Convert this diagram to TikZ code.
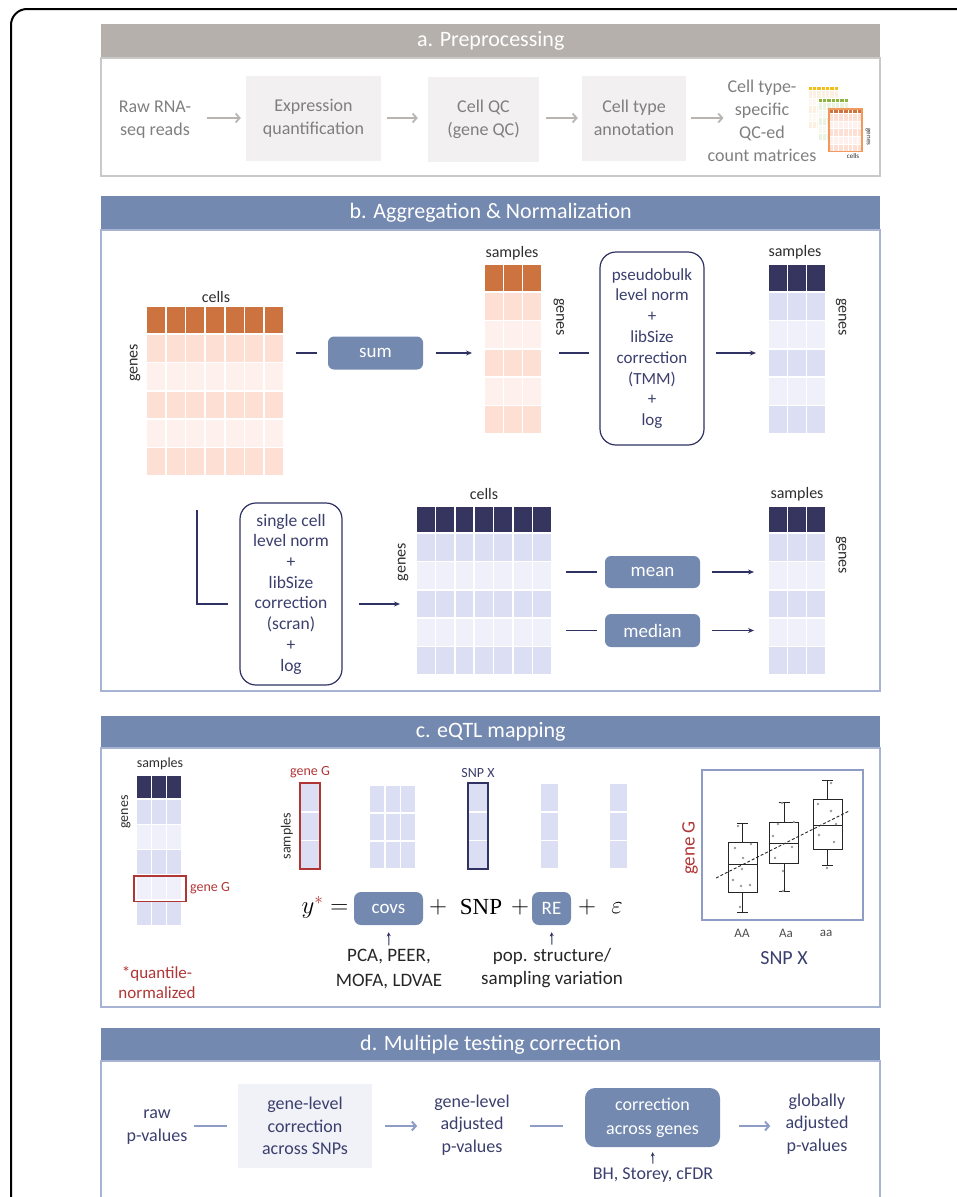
\documentclass[tikz,border=0pt]{standalone}
\usepackage{fontspec}
\setmainfont{Carlito}
\newfontfamily\eqfont{Liberation Serif}
\usetikzlibrary{positioning, arrows.meta, calc}

\definecolor{hdrGray}{HTML}{B5B0AC}
\definecolor{hdrBlue}{HTML}{7489B0}
\definecolor{frameGray}{HTML}{C9C9C9}
\definecolor{frameBlue}{HTML}{A6B3D2}
\definecolor{boxGray}{HTML}{F2F0F0}
\definecolor{boxLav}{HTML}{F1F1F8}
\definecolor{txtGray}{HTML}{7F7F7F}
\definecolor{arrGray}{HTML}{B8B4B0}
\definecolor{lblTxt}{HTML}{2E2E2E}
\definecolor{navy}{HTML}{2F3263}
\definecolor{navyHead}{HTML}{36355F}
\definecolor{navyTxt}{HTML}{3B3F6E}
\definecolor{rust}{HTML}{CC7340}
\definecolor{peachA}{HTML}{FDDFD4}
\definecolor{peachB}{HTML}{FEF1ED}
\definecolor{lavA}{HTML}{DCDFF4}
\definecolor{lavB}{HTML}{EFF0FA}
\definecolor{flatA}{HTML}{DCDFF4}
\definecolor{flatB}{HTML}{DCDFF4}
\definecolor{geneRed}{HTML}{B03636}
\definecolor{slate}{HTML}{8F9DC6}
\definecolor{gold}{HTML}{F2BE1A}
\definecolor{goldA}{HTML}{FCF0E2}
\definecolor{goldB}{HTML}{FEF8F2}
\definecolor{leaf}{HTML}{8DB43E}
\definecolor{leafA}{HTML}{EAF2E0}
\definecolor{leafB}{HTML}{F5F9F0}
\definecolor{iconOrange}{HTML}{F09A5E}
\definecolor{dotGray}{HTML}{9A9A9A}

\tikzset{
  hdr/.style={fill=hdrBlue, text=white, font=\fontsize{22}{26}\selectfont, minimum width=779pt, anchor=north west, inner sep=0pt},
  procbox/.style={fill=boxGray, text=txtGray, align=center, inner sep=0pt, font=\fontsize{18}{23}\selectfont},
  graytxt/.style={text=txtGray, align=center, inner sep=0pt, font=\fontsize{18}{23}\selectfont},
  arrA/.style={draw=arrGray, line width=1.8pt, -{Straight Barb[length=4pt,width=9pt]}},
  lbl/.style={text=lblTxt, inner sep=0pt, font=\fontsize{16}{18}\selectfont},
  smlbl/.style={lbl, font=\fontsize{14}{16}\selectfont},
  opbox/.style={fill=hdrBlue, text=white, rounded corners=6pt, inner sep=0pt, font=\fontsize{19}{22}\selectfont},
  normbox/.style={draw=navy, line width=1.2pt, rounded corners=16pt, fill=white, text=navyTxt, align=center, inner sep=0pt, font=\fontsize{17}{20.8}\selectfont},
  link/.style={draw=navy, line width=1.3pt},
  arrN/.style={link, -{Stealth[length=6pt,width=5pt]}},
  arrS/.style={link, line width=1pt, -{Stealth[length=4pt,width=4pt]}},
  eqtxt/.style={text=black!85, inner sep=0pt, font=\fontsize{19}{22}\selectfont},
  eqsym/.style={text=black, inner sep=0pt, font=\fontsize{23}{26}\selectfont},
  redtxt/.style={text=geneRed, inner sep=0pt, align=center},
  dtxt/.style={text=navyTxt, align=center, inner sep=0pt, font=\fontsize{18}{22.5}\selectfont},
  lavbox/.style={dtxt, fill=boxLav},
  lineD/.style={draw=slate, line width=1.6pt},
  arrD/.style={lineD, line width=2pt, -{Straight Barb[length=4pt,width=9pt]}},
  cellgap/.style={draw=white, line width=1.6pt}
}

% name, top left, cols, rows, cell width, row height, header height, header colour, row colours
\newcommand{\heatmat}[9]{%
  \begin{scope}[shift={#2}]
    \foreach \cc in {1,...,#3}{
      \filldraw[cellgap, fill=#8] ({(\cc-1)*#5},0) rectangle ++(#5,#7);
      \foreach \rr in {1,...,#4}{
        \ifodd\rr\relax \def\rowcol{#9A}\else \def\rowcol{#9B}\fi
        \filldraw[cellgap, fill=\rowcol] ({(\cc-1)*#5},{#7+(\rr-1)*#6}) rectangle ++(#5,#6);
      }
    }
    \node[inner sep=0pt, outer sep=0pt, minimum width={#3*#5}, minimum height={#7+#4*#6}, anchor=north west] (#1) at (0,0) {};
  \end{scope}
}

\begin{document}
\begin{tikzpicture}[x=1pt, y=-1pt]
    \useasboundingbox (0,0) rectangle (957,1197);
    \clip (0,0) rectangle (957,1197);

    % Outer frame
    \draw[line width=2pt, rounded corners=16pt] (11,1240) -- (11,9) -- (990,9);

    % a. Preprocessing
    \node[hdr, fill=hdrGray, minimum height=34pt] (hdrA) at (101,24) {a. Preprocessing};
    \draw[frameGray, line width=1.2pt] (101,58) rectangle (880,176);

    \node[graytxt] (raw) at (155,120) {Raw RNA-\\seq reads};
    \node[procbox, minimum width=135pt, minimum height=85pt] (expr) at (313.5,118) {Expression\\quantification};
    \node[procbox, minimum width=111pt, minimum height=85pt] (cellqc) at (483.5,119) {Cell QC\\(gene QC)};
    \node[procbox, minimum width=104pt, minimum height=85pt] (ctype) at (634,118) {Cell type\\annotation};
    \node[graytxt] (qcmat) at (762,121) {Cell type-\\specific\\QC-ed\\count matrices};

    \draw[arrA, shorten <=16pt, shorten >=5pt] (raw.east |- expr.west) -- (expr.west);
    \draw[arrA, shorten <=6pt, shorten >=10pt] (expr.east) -- (cellqc.west |- expr.east);
    \draw[arrA, shorten <=7pt, shorten >=4pt] (cellqc.east |- ctype.west) -- (ctype.west);
    \draw[arrA, shorten <=5pt, shorten >=-16pt] (ctype.east) -- (qcmat.west |- ctype.east);

    % count matrix icon
    \begin{scope}[cellgap/.style={draw=white, line width=0.6pt}]
        \heatmat{iconY}{(808,86)}{7}{5}{4.3}{7.6}{4.5}{gold}{gold}
        \heatmat{iconG}{(818,98)}{7}{5}{4.3}{7.6}{4.5}{leaf}{leaf}
        \heatmat{iconO}{(829,109)}{7}{5}{4.7}{7.6}{4.5}{rust}{peach}
    \end{scope}
    \draw[iconOrange, line width=1.2pt] (iconO.north west) rectangle (iconO.south east);
    \node[lbl, rotate=-90, font=\fontsize{7}{8}\selectfont] (iconGenes) at (868,137) {genes};
    \node[lbl, font=\fontsize{7}{8}\selectfont] (iconCells) at (853,156) {cells};

    % b. Aggregation & Normalization
    \node[hdr, minimum height=34pt] (hdrB) at (101,196) {b. Aggregation \& Normalization};
    \draw[frameBlue, line width=1.2pt] (101,230) rectangle (880,691);

    \heatmat{cellsA}{(146,306)}{7}{5}{19.7}{28.4}{28}{rust}{peach}
    \node[lbl] (cellsAc) at (216,297) {cells};
    \node[lbl, rotate=90] (cellsAg) at (135,363) {genes};

    \node[opbox, minimum width=95pt, minimum height=33pt] (sum) at (375.5,353) {sum};

    \heatmat{sumA}{(484,264)}{3}{5}{19.3}{28.4}{28}{rust}{peach}
    \node[lbl] (sumAs) at (512,253) {samples};
    \node[lbl, rotate=-90] (sumAg) at (559,317) {genes};

    \node[normbox, minimum width=104pt, minimum height=193pt] (pseudo) at (652,348.5) {pseudobulk\\level norm\\+\\libSize\\correction\\(TMM)\\+\\log};

    \heatmat{normA}{(768,264)}{3}{5}{19.3}{28.4}{28}{navyHead}{lav}
    \node[lbl] (normAs) at (795,252) {samples};
    \node[lbl, rotate=-90] (normAg) at (841,317) {genes};

    \draw[link, shorten <=12pt, shorten >=11pt] (cellsA.east |- sum.west) -- (sum.west);
    \draw[arrN, shorten <=13pt, shorten >=12pt] (sum.east) -- (sumA.west |- sum.east);
    \draw[link, shorten <=17pt, shorten >=10pt] (sumA.east |- sum.east) -- (pseudo.west |- sum.east);
    \draw[arrN, shorten <=11pt, shorten >=12pt] (pseudo.east |- sum.east) -- (normA.west |- sum.east);

    \node[normbox, font=\fontsize{17.5}{20.7}\selectfont, minimum width=102pt, minimum height=182pt] (scbox) at (291,594) {single cell\\level norm\\+\\libSize\\correction\\(scran)\\+\\log};

    \heatmat{cellsB}{(416,506)}{7}{5}{19.4}{28.4}{27}{navyHead}{lav}
    \node[lbl] (cellsBc) at (484,494) {cells};
    \node[lbl, rotate=90] (cellsBg) at (403,562) {genes};

    \node[opbox, minimum width=95pt, minimum height=32pt] (mean) at (652.5,572) {mean};
    \node[opbox, minimum width=95pt, minimum height=33pt] (median) at (652.5,630.5) {median};

    \heatmat{meanB}{(768,506)}{3}{5}{19.3}{28.4}{27}{navyHead}{lav}
    \node[lbl] (meanBs) at (797,494) {samples};
    \node[lbl, rotate=-90] (meanBg) at (841,555) {genes};

    \draw[link, shorten >=11pt] ([xshift=-18pt, yshift=-34pt]cellsA.south) |- ([yshift=-10pt]scbox.west);
    \draw[arrN, shorten <=16pt, shorten >=16pt] ([yshift=-10pt]scbox.east) -- ([yshift=-10pt]scbox.east -| cellsB.west);
    \draw[link, shorten <=14pt, shorten >=8pt] (cellsB.east |- mean.west) -- (mean.west);
    \draw[arrN, shorten <=12pt, shorten >=14pt] (mean.east) -- (meanB.west |- mean.east);
    \draw[link, shorten <=14pt, shorten >=8pt] (cellsB.east |- median.west) -- (median.west);
    \draw[arrN, shorten <=12pt, shorten >=14pt] (median.east) -- (meanB.west |- median.east);

    % c. eQTL mapping
    \node[hdr, minimum height=32pt] (hdrC) at (101,716) {c. eQTL mapping};
    \draw[frameBlue, line width=1.2pt] (101,748) rectangle (880,1007);

    \heatmat{qnorm}{(136,775)}{3}{5}{15.33}{25.3}{24}{navyHead}{lav}
    \node[smlbl] (qnorms) at (160,764) {samples};
    \node[smlbl, rotate=90] (qnormg) at (126,812) {genes};
    \draw[geneRed, line width=1.3pt] (134,876) rectangle (186,901.5);
    \node[redtxt, font=\fontsize{14}{16}\selectfont] (qgene) at (210,888) {gene G};
    \node[redtxt, font=\fontsize{17}{20}\selectfont] (qnote) at (157,983) {*quantile-\\normalized};

    \heatmat{geneCol}{(300,783)}{1}{3}{20}{28.7}{0}{white}{flat}
    \draw[geneRed, line width=1.5pt] (geneCol.north west) rectangle (geneCol.south east);
    \node[redtxt, font=\fontsize{14}{16}\selectfont] (geneColl) at (310,772) {gene G};
    \node[smlbl, rotate=90] (geneCols) at (287,836) {samples};

    \heatmat{covCol}{(369,785)}{3}{3}{15.7}{28}{0}{white}{flat}
    \heatmat{snpCol}{(468,783)}{1}{3}{20}{28.7}{0}{white}{flat}
    \draw[navy, line width=1.5pt] (snpCol.north west) rectangle (snpCol.south east);
    \node[smlbl, text=navyTxt] (snpColl) at (478,773) {SNP X};
    \heatmat{reCol}{(540,783)}{1}{3}{19}{28.7}{0}{white}{flat}
    \heatmat{epsCol}{(609,783)}{1}{3}{19}{28.7}{0}{white}{flat}

    % model
    \node[eqsym] (ystar) at (325,907) {$y^{\textcolor{geneRed}{*}} =$};
    \node[opbox, rounded corners=7pt, minimum width=69pt, minimum height=33pt] (covs) at (388.5,908.5) {covs};
    \node[eqsym] (plusA) at (438,907) {$+$};
    \node[eqsym] (snp) at (481,907) {\eqfont SNP};
    \node[eqsym] (plusB) at (520,907) {$+$};
    \node[opbox, rounded corners=7pt, minimum width=39pt, minimum height=33pt] (re) at (551.5,908.5) {RE};
    \node[eqsym] (plusC) at (587,907) {$+$};
    \node[eqsym] (eps) at (617,908) {$\varepsilon$};

    \node[eqtxt, align=center, font=\fontsize{19}{25}\selectfont] (pcatxt) at (389,969.5) {PCA, PEER,\\MOFA, LDVAE};
    \node[eqtxt, align=center, font=\fontsize{19}{23}\selectfont] (poptxt) at (552,968.5) {pop. structure/\\sampling variation};
    \draw[arrS, shorten <=4pt, shorten >=7pt] (pcatxt.north) -- (covs.south);
    \draw[arrS, shorten <=4pt, shorten >=7pt] (poptxt.north) -- (re.south);

    % boxplot
    \node[draw=slate, line width=1.2pt, minimum width=161pt, minimum height=150pt, inner sep=0pt] (plotbox) at (782.5,845) {};
    \foreach \xc/\qa/\md/\qb/\wa/\wb in {742.5/842/864/892/823/912, 784/822/843/863/802/891, 827.5/799/825/849/780/865}{
        \draw[black!85, line width=1pt] (\xc,\qa) -- (\xc,\wa) ({\xc-5.5},\wa) -- ({\xc+5.5},\wa)
            (\xc,\qb) -- (\xc,\wb) ({\xc-5.5},\wb) -- ({\xc+5.5},\wb);
        \draw[black!85, line width=1pt, fill=white] ({\xc-14.5},\qa) rectangle ({\xc+14.5},\qb);
        \draw[black!85, line width=1pt] ({\xc-14.5},\md) -- ({\xc+14.5},\md);
    }
    \foreach \px/\py in {738/826, 735/848, 751/844, 743/858, 742/869, 733/880, 741/886, 750/885, 740/907,
                         782/803, 778/824, 794/822, 773/836, 792/847, 775/858, 783/871, 783/891,
                         831/783, 818/804, 831/811, 836/824, 819/835, 834/842, 827/868}
        \fill[dotGray] (\px,\py) circle (1.3);
    \draw[black!85, line width=0.9pt, dash pattern=on 3pt off 2pt] (716,878) -- (849,811);

    \node[redtxt, rotate=90, font=\fontsize{19}{22}\selectfont] (plotY) at (690,848) {gene G};
    \foreach \gx/\gl in {742/AA, 786/Aa, 826/aa}
        \node[text=black!70, inner sep=0pt, font=\fontsize{13}{15}\selectfont] (gt\gl) at (\gx,933) {\gl};
    \node[text=navyTxt, inner sep=0pt, font=\fontsize{20}{24}\selectfont] (plotX) at (784,958) {SNP X};

    % d. Multiple testing correction
    \node[hdr, minimum height=33pt] (hdrD) at (101,1028) {d. Multiple testing correction};
    \draw[frameBlue, line width=1.2pt] (101,1240) -- (101,1061) -- (880,1061) -- (880,1240);

    \node[dtxt] (rawp) at (157,1127) {raw\\p-values};
    \node[lavbox, minimum width=134pt, minimum height=84pt] (genelvl) at (305,1126) {gene-level\\correction\\across SNPs};
    \node[dtxt] (adjp) at (472,1125) {gene-level\\adjusted\\p-values};
    \node[opbox, rounded corners=10pt, align=center, font=\fontsize{18}{24}\selectfont, minimum width=135pt, minimum height=59pt] (corrg) at (652.5,1117.5) {correction\\across genes};
    \node[dtxt] (globp) at (817,1124) {globally\\adjusted\\p-values};
    \node[dtxt] (bhtxt) at (653,1175) {BH, Storey, cFDR};

    \draw[lineD, shorten <=6pt, shorten >=11pt] (rawp.east |- genelvl.west) -- (genelvl.west);
    \draw[arrD, shorten <=13pt, shorten >=17pt] (genelvl.east) -- (adjp.west |- genelvl.east);
    \draw[lineD, shorten <=20pt, shorten >=22pt] (adjp.east |- genelvl.east) -- (corrg.west |- genelvl.east);
    \draw[arrD, shorten <=19pt, shorten >=15pt] (corrg.east |- genelvl.east) -- (globp.west |- genelvl.east);
    \draw[arrS, shorten <=4pt, shorten >=5pt] (bhtxt.north) -- (corrg.south);
\end{tikzpicture}
\end{document}
